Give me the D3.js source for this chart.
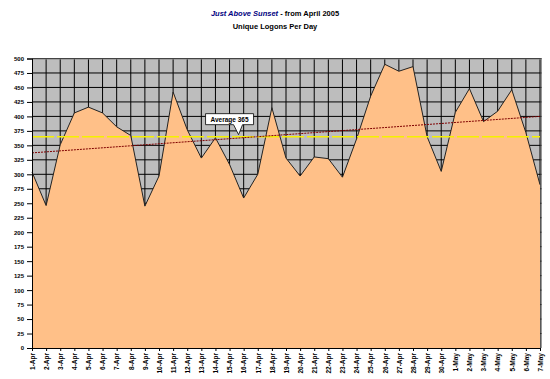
<!DOCTYPE html>
<html>
<head>
<meta charset="utf-8">
<script src="https://cdn.jsdelivr.net/npm/d3@7"></script>
<style>
    body { margin: 0; background: #fff; }
    text { font-family: "Liberation Sans", Arial, sans-serif; }
</style>
</head>
<body>
<div id="chart"></div>
<script>
// days on the category axis
const days = ["1-Apr", "2-Apr", "3-Apr", "4-Apr", "5-Apr", "6-Apr", "7-Apr", "8-Apr", "9-Apr", "10-Apr",
    "11-Apr", "12-Apr", "13-Apr", "14-Apr", "15-Apr", "16-Apr", "17-Apr", "18-Apr", "19-Apr", "20-Apr",
    "21-Apr", "22-Apr", "23-Apr", "24-Apr", "25-Apr", "26-Apr", "27-Apr", "28-Apr", "29-Apr", "30-Apr",
    "1-May", "2-May", "3-May", "4-May", "5-May", "6-May", "7-May"];

// unique logons per day
const logons = [304, 246, 351, 406, 416, 406, 382, 367, 245, 297,
    442, 377, 328, 363, 317, 259, 300, 415, 328, 297,
    330, 327, 295, 361, 435, 490, 478, 486, 365, 305,
    407, 448, 391, 409, 446, 372, 282];

const yTicks = d3.range(0, 501, 25);
const average = 365;
// linear trend line, value at first and last day
const trend = [337, 400];

const margin = { top: 58.5, right: 10, bottom: 31, left: 32 };
const width = 550, height = 379;
const w = 540 - margin.left, h = 348 - margin.top;

const svg = d3.select("#chart").append("svg")
    .attr("width", width)
    .attr("height", height);

// title
const title = svg.append("text")
    .attr("x", 275).attr("y", 16)
    .attr("text-anchor", "middle")
    .style("font-size", "7.5px")
    .style("font-weight", "bold");
title.append("tspan").attr("fill", "#000080").style("font-style", "italic").text("Just Above Sunset");
title.append("tspan").attr("fill", "#000").text(" - from April 2005");

svg.append("text")
    .attr("x", 275).attr("y", 29)
    .attr("text-anchor", "middle")
    .style("font-size", "7.5px")
    .style("font-weight", "bold")
    .text("Unique Logons Per Day");

const g = svg.append("g")
    .attr("transform", "translate(" + margin.left + "," + margin.top + ")");

const x = d3.scalePoint()
    .domain(days)
    .range([0, w]);

const y = d3.scaleLinear()
    .domain([0, 500])
    .range([h, 0]);

// plot background
g.append("rect")
    .attr("width", w + 1.5).attr("height", h)
    .attr("fill", "#bdbdbd");

// grid lines
g.selectAll(".hgrid")
    .data(yTicks.slice(1))
    .enter().append("line")
    .attr("x1", 0).attr("x2", w + 1.5)
    .attr("y1", d => y(d)).attr("y2", d => y(d))
    .attr("stroke", "#000").attr("stroke-width", 1);

g.selectAll(".vgrid")
    .data(days.slice(1))
    .enter().append("line")
    .attr("x1", d => x(d)).attr("x2", d => x(d))
    .attr("y1", 0).attr("y2", h)
    .attr("stroke", "#000").attr("stroke-width", 1);

// area
const area = d3.area()
    .x((d, i) => x(days[i]))
    .y0(h)
    .y1(d => y(d));

g.append("path")
    .datum(logons)
    .attr("d", area)
    .attr("fill", "#ffc088");

g.append("path")
    .datum(logons)
    .attr("d", d3.line().x((d, i) => x(days[i])).y(d => y(d)))
    .attr("fill", "none")
    .attr("stroke", "#222")
    .attr("stroke-width", 1);

// right border of plot
g.append("line")
    .attr("x1", w + 1).attr("x2", w + 1)
    .attr("y1", 0).attr("y2", h)
    .attr("stroke", "#555");
g.append("line")
    .attr("x1", 0).attr("x2", w + 1.5)
    .attr("y1", 0.5).attr("y2", 0.5)
    .attr("stroke", "#888");

// average line
g.append("line")
    .attr("x1", 0).attr("x2", w)
    .attr("y1", y(average)).attr("y2", y(average))
    .attr("stroke", "#f5f000")
    .attr("stroke-width", 1.5)
    .attr("stroke-dasharray", "22,3");

// linear trend
g.append("line")
    .attr("x1", x(days[0])).attr("x2", x(days[days.length - 1]))
    .attr("y1", y(trend[0])).attr("y2", y(trend[1]))
    .attr("stroke", "#800000")
    .attr("stroke-width", 1)
    .attr("stroke-dasharray", "2,1");

// y axis
const yAxis = g.append("g")
    .call(d3.axisLeft(y).tickValues(yTicks).tickSize(5).tickPadding(3));
yAxis.select(".domain").attr("stroke", "#000");
yAxis.selectAll("text")
    .style("font-size", "6px")
    .style("font-weight", "bold")
    .style("font-family", "Liberation Sans, Arial, sans-serif");

// x axis
const xAxis = g.append("g")
    .attr("transform", "translate(0," + h + ")")
    .call(d3.axisBottom(x).tickSize(3).tickSizeOuter(0));
xAxis.select(".domain").attr("stroke", "#000");
xAxis.selectAll("text")
    .attr("transform", "rotate(-90)")
    .attr("text-anchor", "end")
    .attr("x", -5)
    .attr("y", 0)
    .attr("dy", "0.35em")
    .style("font-size", "6.5px")
    .style("font-weight", "bold")
    .style("font-family", "Liberation Sans, Arial, sans-serif");

// callout for the average
const callout = g.append("g")
    .attr("transform", "translate(" + (x("15-Apr") + 9) + "," + y(average) + ")");
callout.append("path")
    .attr("d", "M-33,-23 H15 V-12 H4 L0,-2 L-5,-12 H-33 Z")
    .attr("fill", "#fff")
    .attr("stroke", "#000")
    .attr("stroke-width", 0.8);
callout.append("text")
    .attr("x", -9).attr("y", -15)
    .attr("text-anchor", "middle")
    .style("font-size", "6.5px")
    .style("font-weight", "bold")
    .text("Average " + average);
</script>
</body>
</html>
